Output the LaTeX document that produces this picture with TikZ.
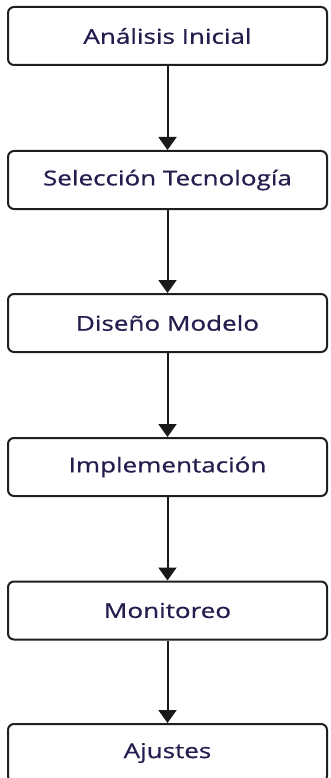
\documentclass[tikz,border=0pt]{standalone}
\usepackage{fontspec}
\setmainfont{Open Sans}
\newfontfamily\labelfont{Open Sans}[FakeBold=0.6]
\usetikzlibrary{arrows.meta}
\definecolor{labelink}{RGB}{36,30,78}
% labels are set a little wider than the font's natural width
\newcommand{\widelabel}[1]{\scalebox{1.27}[1]{#1}}
\begin{document}
\begin{tikzpicture}[x=1pt,y=-1pt,
  stepbox/.style={draw=black!88, line width=2pt, rounded corners=6pt, fill=white,
    minimum width=319pt, minimum height=58pt, inner sep=0pt,
    font=\labelfont\fontsize{20.5}{24}\selectfont, text=labelink},
  flow/.style={draw=black!90, line width=2pt, -{Triangle[width=18pt,length=13pt]}}]
  \useasboundingbox (0,0) rectangle (330,778);
  \clip (0,0) rectangle (330,778);
  \node[stepbox] (a) at (167.5,36) {\widelabel{Análisis Inicial}};
  \node[stepbox] (b) at (167.5,180) {\widelabel{Selección Tecnología}};
  \node[stepbox] (c) at (167.5,323) {\widelabel{Diseño Modelo}};
  \node[stepbox] (d) at (167.5,467) {\widelabel{Implementación}};
  \node[stepbox] (e) at (167.5,610.5) {\widelabel{Monitoreo}};
  \node[stepbox] (f) at (167.5,753) {\widelabel{Ajustes}};
  \draw[flow] (a) -- (b);
  \draw[flow] (b) -- (c);
  \draw[flow] (c) -- (d);
  \draw[flow] (d) -- (e);
  \draw[flow] (e) -- (f);
\end{tikzpicture}
\end{document}
